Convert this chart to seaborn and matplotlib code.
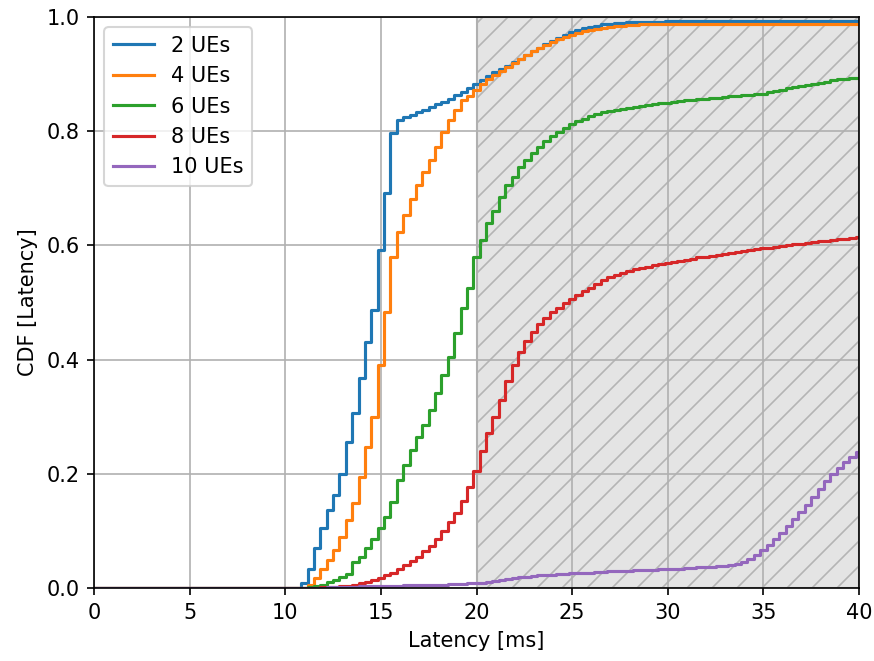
import numpy as np
import pandas as pd
import matplotlib
matplotlib.use("Agg")
import matplotlib.pyplot as plt
import seaborn as sns

# latency bins (ms) where the empirical CDF steps: start at 0, then every 1/3 ms from 10.5 ms
latency_ms = np.concatenate([[0.0], np.arange(31, 121) / 3 + 1 / 6])

labels = ["2 UEs", "4 UEs", "6 UEs", "8 UEs", "10 UEs"]

cdf_2 = [0.0,
         0.0, 0.008, 0.034, 0.07, 0.105, 0.137, 0.163, 0.20, 0.256, 0.306,
         0.367, 0.431, 0.487, 0.592, 0.691, 0.796, 0.82, 0.825, 0.829, 0.834,
         0.838, 0.842, 0.847, 0.852, 0.857, 0.863, 0.869, 0.876, 0.883, 0.89,
         0.896, 0.903, 0.909, 0.915, 0.921, 0.927, 0.933, 0.94, 0.946, 0.952,
         0.958, 0.963, 0.968, 0.973, 0.977, 0.98, 0.983, 0.985, 0.987, 0.988,
         0.989, 0.99, 0.991, 0.991, 0.992, 0.992, 0.992, 0.992, 0.993, 0.993,
         0.993, 0.993, 0.993, 0.993, 0.993, 0.993, 0.993, 0.993, 0.993, 0.993,
         0.993, 0.993, 0.993, 0.993, 0.993, 0.993, 0.993, 0.993, 0.993, 0.993,
         0.993, 0.993, 0.993, 0.993, 0.993, 0.993, 0.993, 0.993, 0.993, 0.993]

cdf_4 = [0.0,
         0.0, 0.0, 0.005, 0.017, 0.034, 0.049, 0.066, 0.09, 0.119, 0.148,
         0.195, 0.247, 0.30, 0.39, 0.484, 0.58, 0.624, 0.653, 0.682, 0.706,
         0.729, 0.75, 0.773, 0.799, 0.82, 0.837, 0.855, 0.862, 0.873, 0.883,
         0.892, 0.899, 0.906, 0.913, 0.92, 0.927, 0.934, 0.94, 0.945, 0.951,
         0.956, 0.961, 0.965, 0.969, 0.972, 0.975, 0.977, 0.979, 0.981, 0.983,
         0.984, 0.985, 0.986, 0.986, 0.987, 0.987, 0.987, 0.988, 0.988, 0.988,
         0.988, 0.988, 0.988, 0.988, 0.988, 0.988, 0.988, 0.988, 0.988, 0.988,
         0.988, 0.988, 0.988, 0.988, 0.988, 0.988, 0.988, 0.988, 0.988, 0.988,
         0.988, 0.988, 0.988, 0.988, 0.988, 0.988, 0.988, 0.988, 0.988, 0.988]

cdf_6 = [0.0,
         0.0, 0.0, 0.001, 0.003, 0.006, 0.01, 0.014, 0.019, 0.025, 0.045,
         0.055, 0.07, 0.085, 0.105, 0.125, 0.15, 0.19, 0.215, 0.242, 0.265,
         0.285, 0.312, 0.341, 0.373, 0.405, 0.446, 0.49, 0.525, 0.58, 0.61,
         0.64, 0.66, 0.685, 0.705, 0.72, 0.738, 0.75, 0.762, 0.773, 0.783,
         0.791, 0.799, 0.805, 0.812, 0.817, 0.822, 0.826, 0.83, 0.833, 0.835,
         0.837, 0.839, 0.841, 0.843, 0.845, 0.846, 0.847, 0.849, 0.85, 0.852,
         0.853, 0.854, 0.855, 0.856, 0.857, 0.858, 0.859, 0.86, 0.861, 0.862,
         0.863, 0.864, 0.865, 0.866, 0.868, 0.87, 0.872, 0.875, 0.877, 0.879,
         0.881, 0.883, 0.885, 0.887, 0.889, 0.891, 0.892, 0.893, 0.894, 0.895]

cdf_8 = [0.0,
         0.0, 0.0, 0.0, 0.0, 0.001, 0.001, 0.002, 0.003, 0.004, 0.006,
         0.008, 0.011, 0.014, 0.018, 0.022, 0.027, 0.033, 0.04, 0.047, 0.055,
         0.064, 0.074, 0.086, 0.1, 0.115, 0.132, 0.152, 0.177, 0.205, 0.24,
         0.272, 0.3, 0.33, 0.362, 0.39, 0.413, 0.432, 0.448, 0.462, 0.473,
         0.483, 0.491, 0.499, 0.506, 0.514, 0.52, 0.526, 0.533, 0.539, 0.544,
         0.549, 0.552, 0.555, 0.558, 0.561, 0.563, 0.565, 0.567, 0.569, 0.571,
         0.573, 0.575, 0.577, 0.579, 0.58, 0.582, 0.584, 0.585, 0.587, 0.589,
         0.59, 0.592, 0.593, 0.595, 0.596, 0.598, 0.599, 0.6, 0.602, 0.603,
         0.605, 0.606, 0.607, 0.608, 0.61, 0.611, 0.612, 0.613, 0.614, 0.615]

cdf_10 = [0.0,
          0.0, 0.0, 0.0, 0.0, 0.0, 0.001, 0.001, 0.002, 0.002, 0.002,
          0.003, 0.003, 0.003, 0.004, 0.004, 0.004, 0.004, 0.005, 0.005, 0.005,
          0.005, 0.006, 0.006, 0.006, 0.007, 0.007, 0.007, 0.008, 0.008, 0.009,
          0.01, 0.012, 0.014, 0.016, 0.018, 0.019, 0.02, 0.021, 0.022, 0.022,
          0.023, 0.024, 0.025, 0.026, 0.026, 0.027, 0.027, 0.028, 0.028, 0.029,
          0.029, 0.03, 0.03, 0.031, 0.031, 0.032, 0.032, 0.033, 0.033, 0.034,
          0.034, 0.035, 0.035, 0.036, 0.037, 0.037, 0.038, 0.039, 0.04, 0.042,
          0.045, 0.05, 0.057, 0.066, 0.075, 0.086, 0.097, 0.108, 0.12, 0.133,
          0.146, 0.16, 0.174, 0.188, 0.2, 0.211, 0.221, 0.23, 0.239, 0.247]

series = [cdf_2, cdf_4, cdf_6, cdf_8, cdf_10]
colors = sns.color_palette("tab10", 5)

fig = plt.figure(figsize=(874 / 150, 661 / 150), dpi=150)
ax = fig.add_subplot(111)
fig.subplots_adjust(left=94 / 874, right=859 / 874, top=1 - 17 / 661, bottom=1 - 588 / 661)

# shaded region beyond 20 ms
plt.rcParams["hatch.linewidth"] = 0.8
ax.axvspan(20, 40, facecolor="#e4e4e4", edgecolor="#b4b4b4", hatch="//", linewidth=1, zorder=0)

for lab, vals, c in zip(labels, series, colors):
    df = pd.DataFrame({"latency": latency_ms, "cdf": vals})
    sns.lineplot(data=df, x="latency", y="cdf", ax=ax, color=c, label=lab,
                 drawstyle="steps-post", linewidth=1.5, estimator=None, sort=False)

ax.set_xlim(0, 40)
ax.set_ylim(0, 1.0)
ax.set_xticks([0, 5, 10, 15, 20, 25, 30, 35, 40])
ax.set_yticks([0.0, 0.2, 0.4, 0.6, 0.8, 1.0])
ax.grid(True)
ax.set_xlabel("Latency [ms]")
ax.set_ylabel("CDF [Latency]")
ax.legend(loc="upper left")

fig.savefig("out.png", dpi=150)
